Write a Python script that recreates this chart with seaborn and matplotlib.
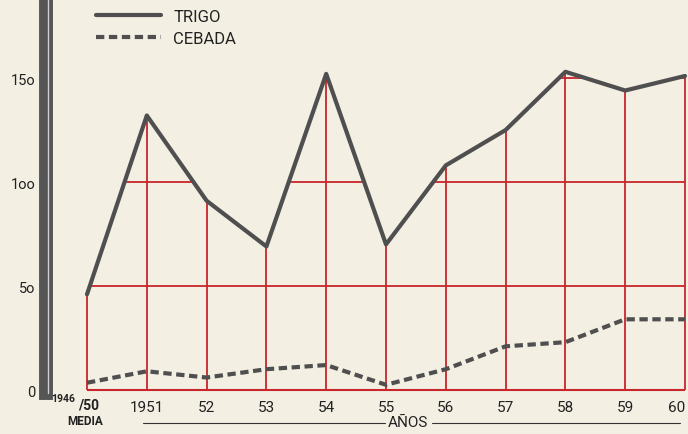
import pandas as pd
import matplotlib.pyplot as plt
import seaborn as sns
from matplotlib.patches import Polygon
from matplotlib.lines import Line2D

years = ["1946/50", "1951", "52", "53", "54", "55", "56", "57", "58", "59", "60"]
trigo = [46, 132, 91, 69, 152, 70, 108, 125, 153, 144, 151]
cebada = [3.5, 9, 6, 10, 12, 2.5, 10, 21, 23, 34, 34]
ytick_vals = [0, 50, 100, 150]
ytick_labels = ["0", "5o", "1oo", "15o"]

bg = "#f3efe3"
red = "#c8262c"
grey = "#4f4f4f"

df = pd.DataFrame({
    "x": list(range(len(years))) * 2,
    "valor": trigo + cebada,
    "serie": ["TRIGO"] * len(years) + ["CEBADA"] * len(years),
})

sns.set_style("white")
plt.rcParams["font.family"] = ["Roboto", "DejaVu Sans"]

W, H = 688, 435
fig = plt.figure(figsize=(W / 100, H / 100), dpi=100, facecolor=bg)
ax = fig.add_axes([45.5 / W, (H - 394) / H, (W - 45.5) / W, 394 / H])
ax.set_facecolor(bg)
ax.set_xlim(-0.694, 10.05)
ax.set_ylim(-1.44, 188)

# rejilla roja solo bajo la curva del trigo
n = len(years)
clip = Polygon([(-0.06, -1)] + [(-0.06, trigo[0])] + list(zip(range(n), trigo)) +
               [(n - 1 + 0.06, trigo[-1]), (n - 1 + 0.06, -1)],
               closed=True, transform=ax.transData, fill=False, edgecolor="none")
vl = ax.vlines(range(n), 0, 190, color=red, lw=1.3, zorder=1)
vl.set_clip_path(clip)
hl = ax.hlines([50, 100, 150], 0, n - 1, color=red, lw=1.3, zorder=1)
hl.set_clip_path(clip)
ax.hlines(0, 0, n - 1, color=red, lw=1.5, zorder=1)

sns.lineplot(data=df, x="x", y="valor", hue="serie", style="serie",
             palette={"TRIGO": grey, "CEBADA": grey},
             dashes={"TRIGO": "", "CEBADA": (2.0, 1.1)},
             linewidth=3.0, ax=ax, zorder=3)

# eje vertical grueso
for s in ["top", "right", "bottom"]:
    ax.spines[s].set_visible(False)
ax.spines["left"].set_linewidth(10)
ax.spines["left"].set_color("#555555")
ax.spines["left"].set_zorder(4)
ax.axvline(-0.694 + 2.0 / 59.8, color="#cfcfcf", lw=1.0, zorder=6, clip_on=False)

ax.set_yticks(ytick_vals)
ax.set_yticklabels(ytick_labels, fontsize=10.5, color="#222222")
ax.tick_params(axis="y", direction="inout", length=16, width=2, color="#555555", pad=-1)
ax.set_xticks(range(1, n))
ax.set_xticklabels(years[1:], fontsize=11, color="#222222")
ax.tick_params(axis="x", length=0, pad=5)
ax.get_xticklabels()[-1].set_horizontalalignment("right")
ax.set_xlabel("")
ax.set_ylabel("")

# etiqueta 1946/50 MEDIA
fig.text(63 / W, 1 - 399 / H, "1946", fontsize=7.5, ha="center", va="center", color="#222222", weight="bold")
fig.text(89 / W, 1 - 406 / H, "/50", fontsize=10, ha="center", va="center", color="#222222", weight="bold")
fig.text(85 / W, 1 - 422 / H, "MEDIA", fontsize=8.5, ha="center", va="center", color="#222222", weight="bold")

# AÑOS
fig.text(408 / W, 1 - 423 / H, "AÑOS", fontsize=11, ha="center", va="center", color="#222222")
fig.add_artist(Line2D([143 / W, 385 / W], [1 - 424 / H] * 2, color="#333333", lw=0.8))
fig.add_artist(Line2D([432 / W, 680 / W], [1 - 424 / H] * 2, color="#333333", lw=0.8))

leg = ax.legend(loc="upper left", bbox_to_anchor=(96 / W, 1 - 10 / H), bbox_transform=fig.transFigure,
                frameon=False, fontsize=12, handlelength=3.9, handletextpad=0.75,
                labelspacing=0.42, borderpad=0, borderaxespad=0, title=None)
for t in leg.get_texts():
    t.set_color("#222222")

fig.savefig("out.png", dpi=100, facecolor=bg)
